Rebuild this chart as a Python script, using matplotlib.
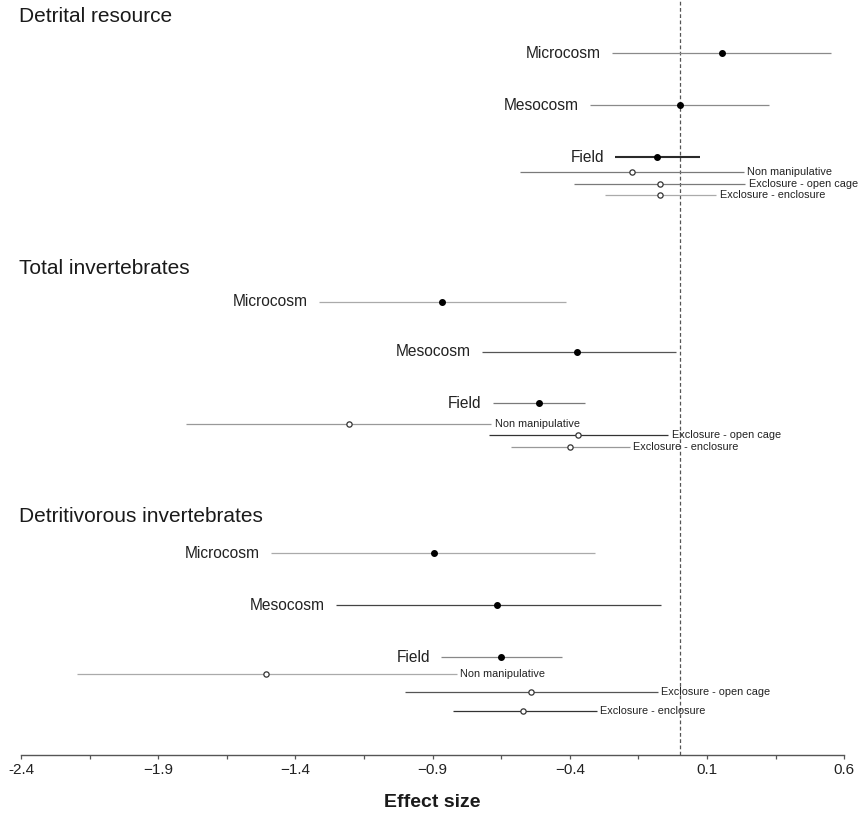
"""Forest plot of effect sizes for detrital resource and invertebrates."""

import matplotlib
matplotlib.use("Agg")
import matplotlib.pyplot as plt

plt.rcParams["font.family"] = ["Liberation Sans", "DejaVu Sans"]

# Groups and rows
groups = ["Detrital resource", "Total invertebrates", "Detritivorous invertebrates"]
rows = ["Microcosm", "Mesocosm", "Field",
        "Non manipulative", "Exclosure - open cage", "Exclosure - enclosure"]

# Effect sizes with lower / upper limits
dr_mean = [0.153, 0.002, -0.083, -0.174, -0.072, -0.070]
dr_lo = [-0.247, -0.328, -0.236, -0.581, -0.385, -0.272]
dr_hi = [0.553, 0.324, 0.076, 0.233, 0.239, 0.134]

ti_mean = [-0.866, -0.373, -0.514, -1.203, -0.372, -0.401]
ti_lo = [-1.314, -0.721, -0.681, -1.800, -0.696, -0.616]
ti_hi = [-0.413, -0.015, -0.344, -0.687, -0.041, -0.181]

di_mean = [-0.895, -0.665, -0.650, -1.506, -0.543, -0.569]
di_lo = [-1.490, -1.251, -0.869, -2.197, -1.002, -0.826]
di_hi = [-0.307, -0.068, -0.430, -0.812, -0.080, -0.302]

xticks = [-2.4, -1.9, -1.4, -0.9, -0.4, 0.1, 0.6]
xticklabels = ["-2.4", "\u22121.9", "\u22121.4", "\u22120.9", "\u22120.4", "0.1", "0.6"]

# Layout: vertical positions (pixels from top) and line styles
title_y = [17, 269, 517]
row_y = [
    [53, 105, 157, 172, 184, 195],
    [302, 352, 403, 424, 435, 447],
    [553, 605, 657, 674, 692, 711],
]
line_col = [
    ["#8a8a8a", "#8a8a8a", "#2a2a2a", "#7a7a7a", "#7a7a7a", "#aaaaaa"],
    ["#aaaaaa", "#555555", "#7a7a7a", "#999999", "#333333", "#999999"],
    ["#aaaaaa", "#444444", "#888888", "#aaaaaa", "#555555", "#333333"],
]
line_w = [
    [0.9, 0.9, 1.5, 0.9, 0.9, 0.9],
    [0.9, 0.9, 0.9, 0.9, 0.9, 0.9],
    [0.9, 0.9, 0.9, 0.9, 0.9, 0.9],
]

means = [dr_mean, ti_mean, di_mean]
los = [dr_lo, ti_lo, di_lo]
his = [dr_hi, ti_hi, di_hi]

W, H = 860, 817
fig = plt.figure(figsize=(W / 100, H / 100), dpi=100)
ax_bottom = 62
ax = fig.add_axes([21 / W, ax_bottom / H, (844.3 - 21) / W, (H - ax_bottom) / H])
ax.set_xlim(-2.4, 0.6)
ax.set_ylim(H - ax_bottom, 0)

# Zero line
ax.axvline(0, color="#555555", lw=0.9, ls=(0, (3, 2)), zorder=1)

for g, title in enumerate(groups):
    ax.text(-2.408, title_y[g], title, fontsize=15, color="#1a1a1a",
            ha="left", va="center")
    for i, name in enumerate(rows):
        y = row_y[g][i]
        ax.plot([los[g][i], his[g][i]], [y, y], color=line_col[g][i],
                lw=line_w[g][i], solid_capstyle="butt", zorder=2)
        if i < 3:
            ax.plot(means[g][i], y, "o", ms=4.0, color="black", zorder=3)
            ax.annotate(name, (los[g][i], y), xytext=(-8, 0),
                        textcoords="offset points", ha="right", va="center",
                        fontsize=11.2, color="#222222")
        else:
            ax.plot(means[g][i], y, "o", ms=3.8, mfc="white", mec="#333333",
                    mew=0.9, zorder=3)
            ax.annotate(name, (his[g][i], y), xytext=(2.5, 0),
                        textcoords="offset points", ha="left", va="center",
                        fontsize=7.8, color="#222222")

# Axes styling: only the bottom axis
for side in ["left", "right", "top"]:
    ax.spines[side].set_visible(False)
ax.spines["bottom"].set_color("#555555")
ax.spines["bottom"].set_linewidth(1.0)
ax.set_yticks([])
ax.set_xticks(xticks)
ax.set_xticklabels(xticklabels)
ax.set_xticks([t + 0.25 for t in xticks[:-1]], minor=True)
ax.tick_params(axis="x", which="both", direction="out", length=3,
               width=0.9, color="#555555", labelsize=11, pad=3,
               labelcolor="#222222")
ax.set_xlabel("Effect size", fontsize=14, fontweight="bold", labelpad=12,
              color="#1a1a1a")

fig.savefig("out.png", dpi=100)
